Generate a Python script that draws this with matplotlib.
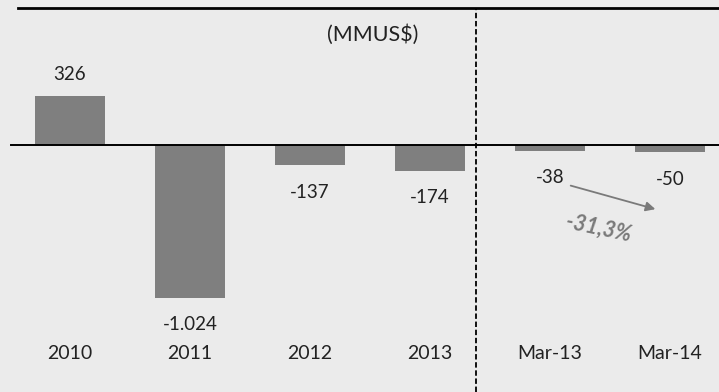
import matplotlib
matplotlib.use("Agg")
import matplotlib.pyplot as plt
from matplotlib.transforms import blended_transform_factory

periods = ["2010", "2011", "2012", "2013", "Mar-13", "Mar-14"]
values = [326, -1024, -137, -174, -38, -50]
change_label = "-31,3%"
unit_label = "(MMUS$)"

plt.rcParams['font.family'] = ['Lato', 'DejaVu Sans']

BG = "#ebebeb"
BAR = "#7f7f7f"
TXT = "#222222"


def fmt(v):
    # thousands separated with a dot
    return "{:,}".format(v).replace(",", ".")


fig = plt.figure(figsize=(7.19, 3.92), dpi=100, facecolor=BG)
ax = fig.add_axes([18 / 719, 0, 701 / 719, 384 / 392])
ax.set_facecolor(BG)

x = list(range(len(values)))
ax.bar(x, values, width=0.58, color=BAR, zorder=2)
ax.axhline(0, xmin=-0.01, color="black", lw=1.4, zorder=3, clip_on=False)

ax.set_xlim(-0.433, 5.408)
ax.set_ylim(-1658, 919)

for s in ["left", "right", "bottom"]:
    ax.spines[s].set_visible(False)
ax.spines["top"].set_linewidth(2)
ax.set_xticks([])
ax.set_yticks([])

# value labels
for xi, v in zip(x, values):
    off = 22 if v > 0 else -27
    ax.annotate(fmt(v), (xi, v), xytext=(0, off * 0.72), textcoords="offset points",
                ha="center", va="center", fontsize=13.5, color=TXT)

# category labels near the bottom
tr = blended_transform_factory(ax.transData, ax.transAxes)
for xi, lab in zip(x, periods):
    ax.text(xi, 0.099, lab, transform=tr, ha="center", va="center",
            fontsize=14, color=TXT)

# separator between annual and quarterly figures
ax.axvline(3.383, color="black", lw=1.3, ls=(0, (3, 1.5)), zorder=1)

ax.text(2.52, 0.93, unit_label, transform=tr, ha="center", va="center",
        fontsize=15.5, color=TXT)

# change between the two quarters
ax.annotate("", xy=(4.9, -436), xytext=(4.15, -268),
            arrowprops=dict(arrowstyle="-|>", color="#7a7a7a", lw=1.3,
                            mutation_scale=14), zorder=4)
ax.text(4.4, -560, change_label, ha="center", va="center", rotation=-12,
        fontsize=15.5, color="#7a7a7a", style="italic", fontweight="bold")

fig.savefig("out.png", dpi=100, facecolor=BG)
